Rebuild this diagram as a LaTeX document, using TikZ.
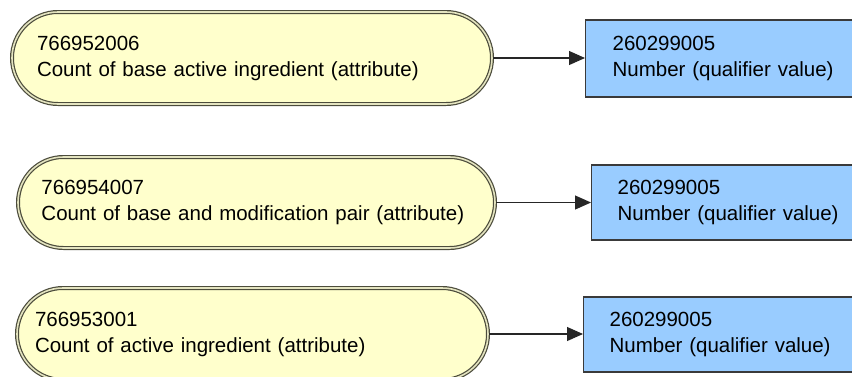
\documentclass[tikz,border=0pt]{standalone}
\usepackage{fontspec}
\setmainfont{Liberation Sans}
\usetikzlibrary{shapes.misc,arrows.meta}
\definecolor{attrfill}{HTML}{FFFFCC}
\definecolor{attrline}{HTML}{4C4C3C}
\definecolor{attrgap}{HTML}{E4E4C0}
\definecolor{valfill}{HTML}{99CCFF}
\definecolor{valline}{HTML}{3A3A3A}
\tikzset{
  attrnode/.style={rounded rectangle, fill=attrfill, draw=attrline, line width=1.2pt,
    double=attrgap, double distance=1.6pt, inner xsep=0pt, inner ysep=0pt,
    align=left, font=\fontsize{20.5}{26}\selectfont},
  valnode/.style={rectangle, fill=valfill, draw=valline, line width=1.2pt,
    inner xsep=0pt, inner ysep=0pt, minimum width=300pt,
    align=left, font=\fontsize{20.5}{26}\selectfont},
  relarrow/.style={draw=black!85, line width=1.1pt, -{Triangle[length=16pt,width=14pt]}}
}
\begin{document}
\begin{tikzpicture}[x=1pt,y=-1pt]
\clip (0,0) rectangle (852,376);
\fill[white] (0,0) rectangle (852,376);
% attribute nodes
\node[attrnode, minimum width=480pt, minimum height=92pt, text width=430pt] (e1) at (252,58) {766952006\\Count of base active ingredient (attribute)};
\node[attrnode, minimum width=477pt, minimum height=91pt, text width=430pt] (e2) at (256.5,202.5) {766954007\\Count of base and modification pair (attribute)};
\node[attrnode, minimum width=471pt, minimum height=92pt, text width=435pt] (e3) at (252.5,334) {766953001\\Count of active ingredient (attribute)};
% value nodes
\node[valnode, anchor=west, minimum height=77pt, text width=246pt] (b1) at (585,58.5) {260299005\\Number (qualifier value)};
\node[valnode, anchor=west, minimum height=75pt, text width=248pt] (b2) at (591,202.5) {260299005\\Number (qualifier value)};
\node[valnode, anchor=west, minimum height=75pt, text width=248pt] (b3) at (583,334.5) {260299005\\Number (qualifier value)};
% connectors
\draw[relarrow] (e1.east) -- (e1.east -| b1.west);
\draw[relarrow] (e2.east) -- (e2.east -| b2.west);
\draw[relarrow] (e3.east) -- (e3.east -| b3.west);
\end{tikzpicture}
\end{document}
